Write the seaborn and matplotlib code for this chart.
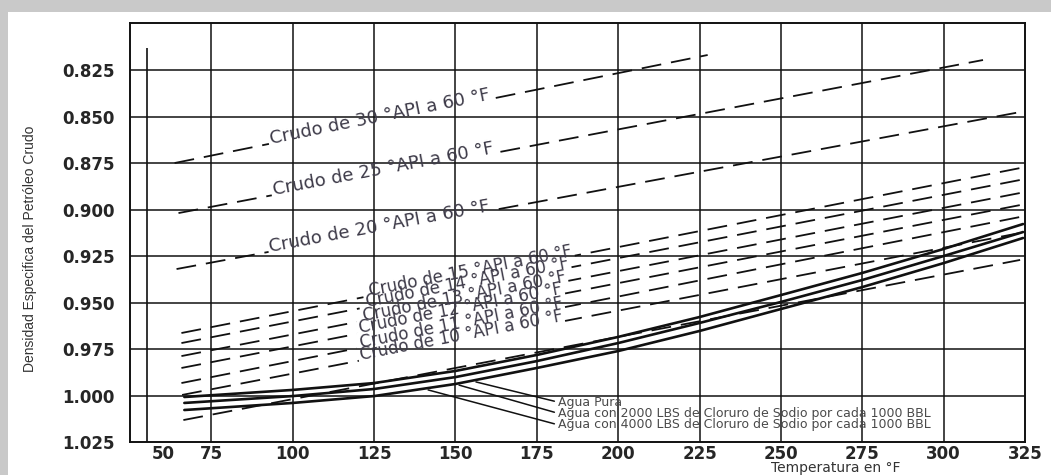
import numpy as np
import pandas as pd
import matplotlib
matplotlib.use("Agg")
import matplotlib.pyplot as plt
import matplotlib.transforms as mtransforms
from matplotlib.patches import Rectangle
import seaborn as sns

# Water curves (specific gravity vs temperature)
temp_agua = [66.7, 100, 125, 150, 175, 200, 225, 250, 275, 300, 324.4]
agua_pura = [1.0008, 0.9970, 0.9933, 0.9868, 0.9782, 0.9685, 0.9578, 0.9460, 0.9341, 0.9212, 0.9078]
agua_2000 = [1.0040, 1.0003, 0.9965, 0.9901, 0.9815, 0.9718, 0.9610, 0.9497, 0.9379, 0.9250, 0.9121]
agua_4000 = [1.0078, 1.0040, 1.0003, 0.9938, 0.9852, 0.9761, 0.9653, 0.9535, 0.9417, 0.9288, 0.9153]

# Crude oil lines: start / end points of each dashed line
crudo_api = [30, 25, 20, 15, 14, 13, 12, 11, 10, None]
crudo_t_ini = [63.7, 64.9, 64.3, 65.8, 65.8, 65.8, 65.8, 65.8, 66.0, 66.4]
crudo_d_ini = [0.8750, 0.9019, 0.9320, 0.9664, 0.9718, 0.9788, 0.9852, 0.9933, 0.9997, 1.0132]
crudo_t_fin = [227.5, 312.1, 323.5, 323.5, 323.5, 323.5, 323.5, 323.5, 323.5, 323.5]
crudo_d_fin = [0.8169, 0.8196, 0.8476, 0.8777, 0.8841, 0.8911, 0.8976, 0.9040, 0.9126, 0.9271]
# where along each line the label sits (temperature)
crudo_t_label = [127, 128, 127, 155, 154, 153, 152, 152, 152, None]

agua_labels = ["Agua Pura",
               "Agua con 2000 LBS de Cloruro de Sodio por cada 1000 BBL",
               "Agua con 4000 LBS de Cloruro de Sodio por cada 1000 BBL"]
agua_label_t = 181.4
agua_label_d = [1.0035, 1.0095, 1.0157]
agua_leader_t = [156.3, 151.1, 141.6]
agua_leader_d = [0.9927, 0.9944, 0.9970]

x_ticks = [50, 75, 100, 125, 150, 175, 200, 225, 250, 275, 300, 325]
y_ticks = [0.825, 0.850, 0.875, 0.900, 0.925, 0.950, 0.975, 1.000, 1.025]
linea_suelta_t = 55.1  # stray vertical line on the scan

sns.set_style("white")
plt.rcParams['font.family'] = ['DejaVu Sans']

fig = plt.figure(figsize=(10.51, 4.75), dpi=100)
fig.patch.set_facecolor("#c9c9c9")
fig.patches.append(Rectangle((8 / 1051, 0), 1, 1 - 12 / 475, transform=fig.transFigure,
                             facecolor="white", edgecolor="none", zorder=-10))
ax = fig.add_axes([130 / 1051, 1 - 442 / 475, 895 / 1051, 419 / 475])
ax.set_facecolor("white")
ax.set_xlim(50.5, 325)
ax.set_ylim(1.025, 0.7997)

dash = (0, (11, 5.5))
ink = "#111111"

# crude lines
for i in range(len(crudo_api)):
    sns.lineplot(x=[crudo_t_ini[i], crudo_t_fin[i]], y=[crudo_d_ini[i], crudo_d_fin[i]],
                 ax=ax, color=ink, lw=1.3, linestyle=dash, zorder=2)

# water lines
agua = pd.DataFrame({"temp": temp_agua, "pura": agua_pura, "c2000": agua_2000, "c4000": agua_4000})
for col in ["pura", "c2000", "c4000"]:
    sns.lineplot(data=agua, x="temp", y=col, ax=ax, color=ink, lw=1.9, zorder=2)

# crude labels: white patch first (gap in the dashes), then the text
for i, api in enumerate(crudo_api):
    if api is None:
        continue
    t = crudo_t_label[i]
    d = np.interp(t, [crudo_t_ini[i], crudo_t_fin[i]], [crudo_d_ini[i], crudo_d_fin[i]])
    p0 = ax.transData.transform((crudo_t_ini[i], crudo_d_ini[i]))
    p1 = ax.transData.transform((crudo_t_fin[i], crudo_d_fin[i]))
    ang = np.degrees(np.arctan2(p1[1] - p0[1], p1[0] - p0[0]))
    txt = f"Crudo de {api} °API a 60 °F"
    fs = 13 if api >= 20 else 12
    ax.text(t, d, txt, fontsize=fs, rotation=ang, rotation_mode="anchor", ha="center",
            va="baseline", color="none", zorder=3,
            bbox=dict(boxstyle="square,pad=0.1", fc="white", ec="none"))
    ax.text(t, d, txt, fontsize=fs, rotation=ang, rotation_mode="anchor", ha="center",
            va="baseline", color="#3d3a48", zorder=6)

# grid drawn on top, like the printed chart
for xv in x_ticks[1:-1]:
    ax.axvline(xv, color=ink, lw=1.1, zorder=5)
for yv in y_ticks[:-1]:
    ax.axhline(yv, color=ink, lw=1.1, zorder=5)
ax.vlines(linea_suelta_t, 0.8132, 1.025, color=ink, lw=1.2, zorder=5)

# water labels with leader lines
for lab, d, lt, ld in zip(agua_labels, agua_label_d, agua_leader_t, agua_leader_d):
    ax.annotate(lab, xy=(lt, ld), xytext=(agua_label_t, d), fontsize=9, color="#4a4a4a",
                ha="left", va="center", zorder=6,
                arrowprops=dict(arrowstyle="-", color=ink, lw=1.1, shrinkA=0, shrinkB=0,
                                relpos=(0, 0.5)))

for s in ax.spines.values():
    s.set_color(ink)
    s.set_linewidth(1.4)
    s.set_zorder(5)

ax.set_xticks(x_ticks)
ax.set_xticklabels([str(v) for v in x_ticks], fontweight="bold", fontsize=12)
ax.set_yticks(y_ticks)
ax.set_yticklabels([f"{v:.3f}" for v in y_ticks], fontweight="bold", fontsize=12)
ax.tick_params(axis="both", length=0)
ax.tick_params(axis="y", pad=11)
ax.tick_params(axis="x", pad=2)
# the "50" label is printed off the spine on the original
lab50 = ax.get_xticklabels()[0]
lab50.set_transform(lab50.get_transform() + mtransforms.ScaledTranslation(0.33, 0, fig.dpi_scale_trans))

ax.set_xlabel("Temperatura en °F", fontsize=10, color="#333333")
ax.xaxis.set_label_coords(0.788, -0.046)
ax.set_ylabel("Densidad Especifica del Petróleo Crudo", fontsize=10, color="#333333",
              family=["Liberation Sans", "DejaVu Sans"])
ax.yaxis.set_label_coords(-0.104, 0.46)

fig.savefig("out.png", dpi=100, facecolor=fig.get_facecolor())
